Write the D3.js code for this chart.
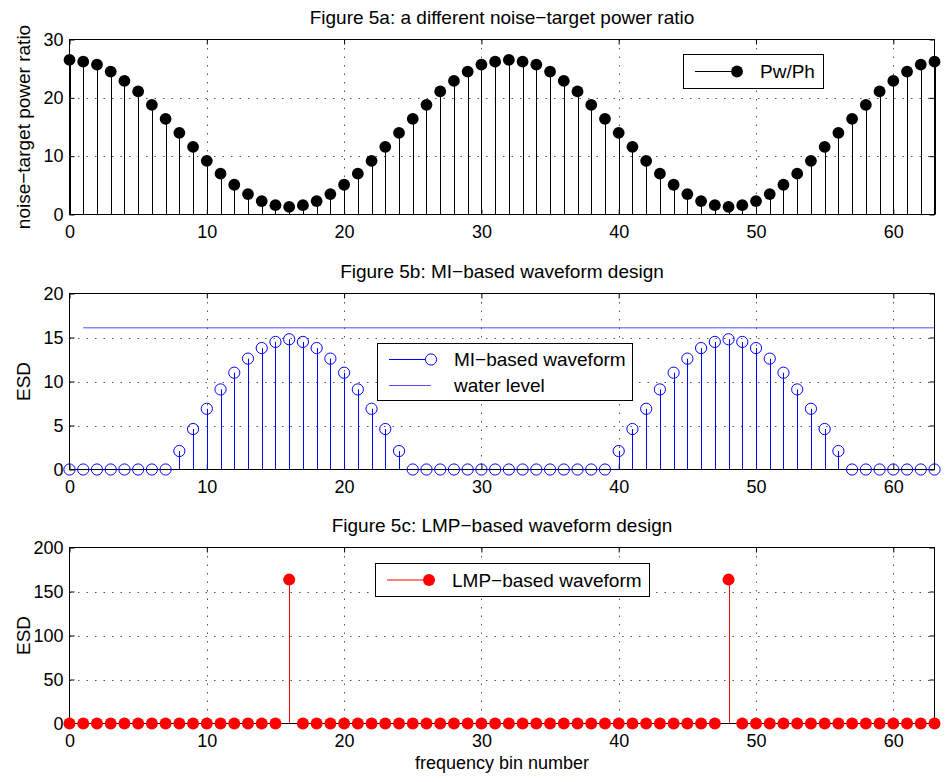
<!DOCTYPE html>
<html>
<head>
<meta charset="utf-8">
<title>Figure 5</title>
<script src="https://d3js.org/d3.v7.min.js"></script>
<style>
    body {
        margin: 0;
        background: #fff;
    }

    svg {
        display: block;
        font-family: "Liberation Sans", Arial, Helvetica, sans-serif;
    }

    .grid line {
        stroke: #555;
        stroke-dasharray: 1.5, 7;
    }
</style>
</head>
<body>
<svg id="chart" width="948" height="782"></svg>
<script>
    // frequency bins and tick labels
    var bins = d3.range(64);
    var xTicks = [0, 10, 20, 30, 40, 50, 60];
    var ratioTicks = [0, 10, 20, 30];
    var miTicks = [0, 5, 10, 15, 20];
    var lmpTicks = [0, 50, 100, 150, 200];

    // Figure 5a: noise-target power ratio Pw/Ph
    var pwph = [
        26.5, 26.2, 25.7, 24.5, 22.9, 21.1, 18.8, 16.4, 14.0, 11.6, 9.2, 7.0, 5.1, 3.5, 2.3, 1.6,
        1.3, 1.6, 2.3, 3.5, 5.1, 7.0, 9.2, 11.6, 14.0, 16.4, 18.8, 21.1, 22.9, 24.5, 25.7, 26.2,
        26.5, 26.2, 25.7, 24.5, 22.9, 21.1, 18.8, 16.4, 14.0, 11.6, 9.2, 7.0, 5.1, 3.5, 2.3, 1.6,
        1.3, 1.6, 2.3, 3.5, 5.1, 7.0, 9.2, 11.6, 14.0, 16.4, 18.8, 21.1, 22.9, 24.5, 25.7, 26.2
    ];

    // Figure 5b: MI-based waveform ESD and water level
    var miEsd = [
        0, 0, 0, 0, 0, 0, 0, 0, 2.1, 4.6, 6.9, 9.1, 11.0, 12.6, 13.8, 14.5,
        14.8, 14.5, 13.8, 12.6, 11.0, 9.1, 6.9, 4.6, 2.1, 0, 0, 0, 0, 0, 0, 0,
        0, 0, 0, 0, 0, 0, 0, 0, 2.1, 4.6, 6.9, 9.1, 11.0, 12.6, 13.8, 14.5,
        14.8, 14.5, 13.8, 12.6, 11.0, 9.1, 6.9, 4.6, 2.1, 0, 0, 0, 0, 0, 0, 0
    ];
    var waterLevel = 16.1;
    var waterRange = [1, 63];

    // Figure 5c: LMP-based waveform ESD
    var lmpEsd = [
        0, 0, 0, 0, 0, 0, 0, 0, 0, 0, 0, 0, 0, 0, 0, 0,
        163.5, 0, 0, 0, 0, 0, 0, 0, 0, 0, 0, 0, 0, 0, 0, 0,
        0, 0, 0, 0, 0, 0, 0, 0, 0, 0, 0, 0, 0, 0, 0, 0,
        163.5, 0, 0, 0, 0, 0, 0, 0, 0, 0, 0, 0, 0, 0, 0, 0
    ];

    var svg = d3.select("#chart");
    var FS = 19;      // titles, legends, y labels
    var TICK_FS = 18; // tick labels, x label
    var x = d3.scaleLinear().domain([0, 63]).range([69.5, 934.5]);

    function panel(top, bottom, yTicks, title, ylabel, xlabel) {
        var y = d3.scaleLinear().domain([0, yTicks[yTicks.length - 1]]).range([bottom, top]);
        var g = svg.append("g");

        var grid = g.append("g").attr("class", "grid");
        grid.selectAll(".gx").data(xTicks.slice(1)).enter().append("line")
            .attr("x1", function (d) { return Math.round(x(d)) + 0.5; })
            .attr("x2", function (d) { return Math.round(x(d)) + 0.5; })
            .attr("y1", top).attr("y2", bottom);
        grid.selectAll(".gy").data(yTicks.slice(1, -1)).enter().append("line")
            .attr("x1", x(0)).attr("x2", x(63))
            .attr("y1", function (d) { return Math.round(y(d)) + 0.5; })
            .attr("y2", function (d) { return Math.round(y(d)) + 0.5; });

        function styleAxis(a) {
            a.attr("font-size", TICK_FS).attr("font-family", null);
            a.select(".domain").remove();
            a.selectAll("text").attr("fill", "#000");
        }

        g.append("g").attr("transform", "translate(0," + bottom + ")")
            .call(d3.axisBottom(x).tickValues(xTicks).tickSizeInner(-5).tickSizeOuter(0).tickPadding(11))
            .call(styleAxis);
        g.append("g").attr("transform", "translate(0," + top + ")")
            .call(d3.axisTop(x).tickValues(xTicks).tickSizeInner(-5).tickSizeOuter(0).tickFormat(""))
            .call(styleAxis);
        g.append("g").attr("transform", "translate(" + x(0) + ",0)")
            .call(d3.axisLeft(y).tickValues(yTicks).tickSizeInner(-5).tickSizeOuter(0).tickPadding(6))
            .call(styleAxis);
        g.append("g").attr("transform", "translate(" + x(63) + ",0)")
            .call(d3.axisRight(y).tickValues(yTicks).tickSizeInner(-5).tickSizeOuter(0).tickFormat(""))
            .call(styleAxis);

        g.append("rect")
            .attr("x", x(0)).attr("y", top)
            .attr("width", x(63) - x(0)).attr("height", bottom - top)
            .attr("fill", "none").attr("stroke", "#000");

        svg.append("text")
            .attr("x", (x(0) + x(63)) / 2).attr("y", top - 16)
            .attr("text-anchor", "middle").attr("font-size", FS)
            .text(title);

        svg.append("text")
            .attr("transform", "translate(30," + (top + bottom) / 2 + ") rotate(-90)")
            .attr("text-anchor", "middle").attr("font-size", FS)
            .text(ylabel);

        if (xlabel) {
            svg.append("text")
                .attr("x", (x(0) + x(63)) / 2).attr("y", bottom + 45)
                .attr("text-anchor", "middle").attr("font-size", TICK_FS)
                .text(xlabel);
        }

        return { g: g, y: y };
    }

    function stems(p, values, color) {
        p.g.append("g").selectAll("line").data(values).enter().append("line")
            .attr("x1", function (d, i) { return Math.round(x(bins[i])) + 0.5; })
            .attr("x2", function (d, i) { return Math.round(x(bins[i])) + 0.5; })
            .attr("y1", p.y(0))
            .attr("y2", function (d) { return p.y(d); })
            .attr("stroke", color);
    }

    function markers(p, values, r, fill, stroke) {
        p.g.append("g").selectAll("circle").data(values).enter().append("circle")
            .attr("cx", function (d, i) { return x(bins[i]); })
            .attr("cy", function (d) { return p.y(d); })
            .attr("r", r)
            .attr("fill", fill)
            .attr("stroke", stroke || "none");
    }

    function legend(box, rows) {
        var lg = svg.append("g");
        lg.append("rect")
            .attr("x", box[0] + 0.5).attr("y", box[1] + 0.5)
            .attr("width", box[2]).attr("height", box[3])
            .attr("fill", "#fff").attr("stroke", "#000");
        rows.forEach(function (r) {
            lg.append("line")
                .attr("x1", box[0] + 12).attr("x2", box[0] + 54)
                .attr("y1", r.y).attr("y2", r.y)
                .attr("stroke", r.color);
            if (r.marker) {
                lg.append("circle")
                    .attr("cx", box[0] + 54).attr("cy", r.y).attr("r", r.marker.r)
                    .attr("fill", r.marker.fill).attr("stroke", r.marker.stroke || "none");
            }
            lg.append("text")
                .attr("x", box[0] + 77).attr("y", r.y).attr("dy", "0.35em")
                .attr("font-size", FS)
                .text(r.label);
        });
    }

    // panel a
    var pa = panel(39.5, 214.5, ratioTicks, "Figure 5a: a different noise\u2212target power ratio", "noise\u2212target power ratio");
    stems(pa, pwph, "#000");
    markers(pa, pwph, 5.9, "#000");
    legend([683, 54, 140, 34], [
        { y: 71.5, color: "#000", label: "Pw/Ph", marker: { r: 5.9, fill: "#000" } }
    ]);

    // panel b
    var pb = panel(293.5, 469.5, miTicks, "Figure 5b: MI\u2212based waveform design", "ESD");
    pb.g.append("line")
        .attr("x1", x(waterRange[0])).attr("x2", x(waterRange[1]))
        .attr("y1", pb.y(waterLevel)).attr("y2", pb.y(waterLevel))
        .attr("stroke", "#4f4fff");
    stems(pb, miEsd, "#0000ff");
    markers(pb, miEsd, 5.6, "none", "#0000ff");
    legend([377, 343, 255, 57], [
        { y: 359.5, color: "#0000ff", label: "MI\u2212based waveform", marker: { r: 5.6, fill: "#fff", stroke: "#0000ff" } },
        { y: 385.5, color: "#4f4fff", label: "water level" }
    ]);

    // panel c
    var pc = panel(547.5, 723.5, lmpTicks, "Figure 5c: LMP\u2212based waveform design", "ESD", "frequency bin number");
    stems(pc, lmpEsd, "#ff0000");
    pc.g.append("line")
        .attr("x1", x(0)).attr("x2", x(63))
        .attr("y1", pc.y(0)).attr("y2", pc.y(0))
        .attr("stroke", "#000");
    markers(pc, lmpEsd, 6, "#ff0000");
    legend([375, 563, 274, 33], [
        { y: 580, color: "#ff0000", label: "LMP\u2212based waveform", marker: { r: 6, fill: "#ff0000" } }
    ]);
</script>
</body>
</html>
